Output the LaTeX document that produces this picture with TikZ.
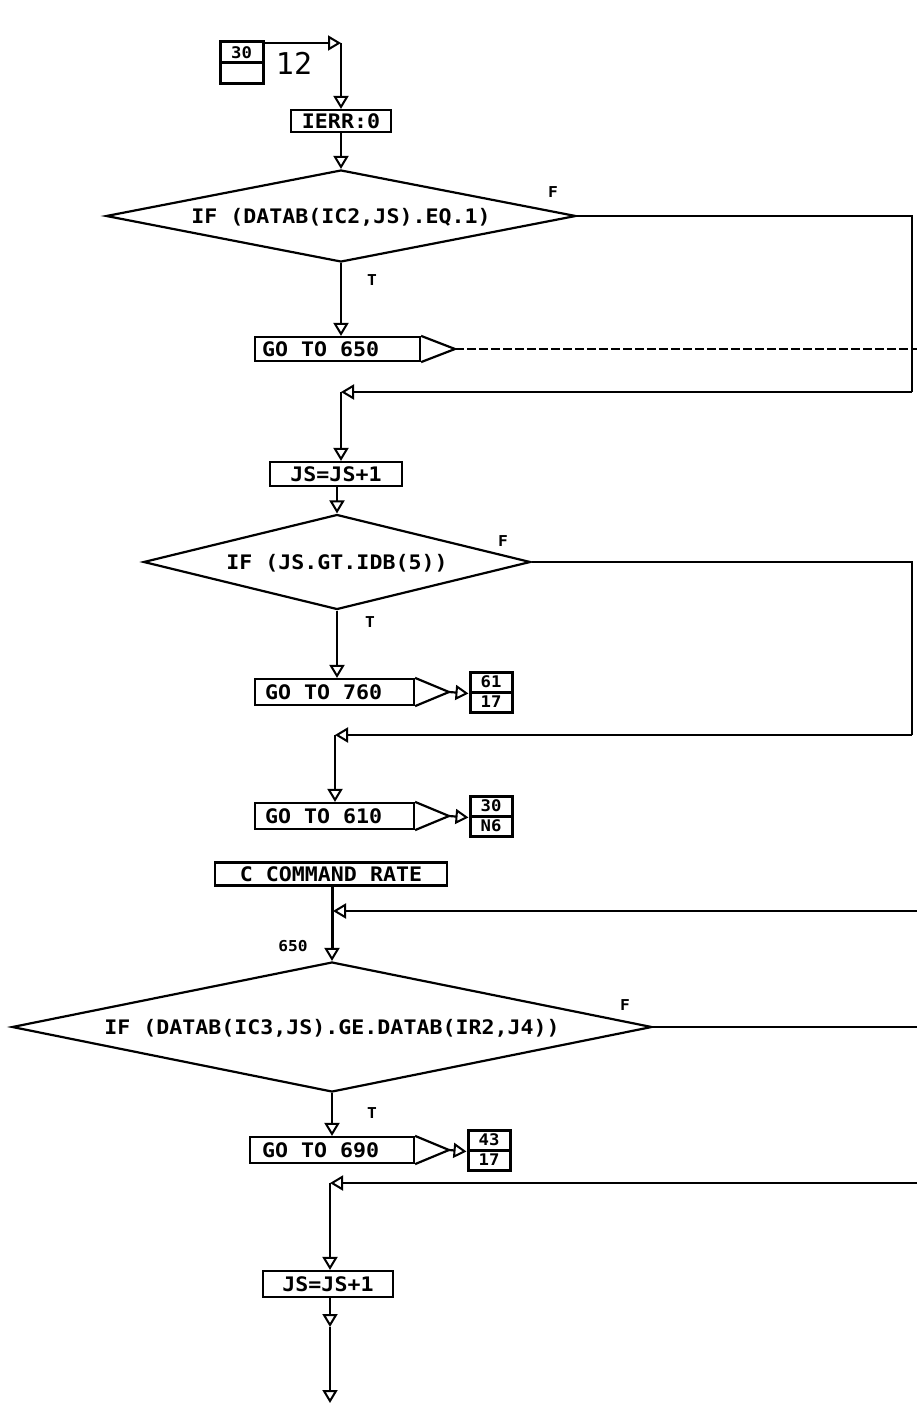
\documentclass[tikz,border=0pt]{standalone}
\usepackage{fontspec}
\usetikzlibrary{arrows.meta,shapes.geometric}
\newfontfamily\plotfont[FakeStretch=1.08]{DejaVu Sans Mono}
\newfontfamily\pgfont{DejaVu Sans Mono}
\begin{document}
\begin{tikzpicture}[x=1pt,y=-1pt,
  ln/.style={line width=2.2pt},
  tri/.style={-{Triangle[open,length=13pt,width=15pt,line width=2pt]}},
  txt/.style={inner sep=0pt,font=\plotfont\bfseries\fontsize{20}{20}\selectfont,text height=14.5pt,text depth=0pt},
  box/.style={draw,line width=2.2pt,rectangle,inner sep=0pt},
  tbox/.style={box,txt},
  dia/.style={draw,diamond,line width=2.2pt,txt},
  cbox/.style={draw,line width=3pt,rectangle,inner sep=0pt,minimum width=42pt,minimum height=20pt,
    font=\plotfont\bfseries\fontsize{16}{16}\selectfont,text height=11.5pt,text depth=0pt},
  lab/.style={inner sep=0pt,font=\plotfont\bfseries\fontsize{15}{15}\selectfont}
]
\useasboundingbox (0,0) rectangle (917,1410);
\coordinate (rx) at (912,0);
\coordinate (edge) at (917,0);
% corners
\coordinate (k0) at (341,43);
\coordinate (k1) at (341,392);
\coordinate (k2) at (335,735);
\coordinate (k3) at (333,911);
\coordinate (k4) at (330,1183);
\coordinate (m1) at (330,1327);
\coordinate (m2) at (330,1403);
% top connector
\node[cbox,minimum width=43pt,minimum height=21pt] (c0a) at (241.5,52.5) {30};
\node[cbox,minimum width=43pt,minimum height=21pt] (c0b) at (241.5,73.5) {};
\node[inner sep=0pt,font=\pgfont\fontsize{30}{30}\selectfont] (pg) at (294,63) {12};
% boxes
\node[tbox,minimum width=100pt,minimum height=22pt] (ierr) at (341,121) {IERR:0};
\node[dia,minimum width=470pt,minimum height=92pt,shape aspect=5.1] (d1) at (341,216) {IF (DATAB(IC2,JS).EQ.1)};
\node[lab] (f1) at (553,192) {F};
\node[lab] (t1) at (372,280) {T};
\node[box,minimum width=165pt,minimum height=24pt] (g650) at (337.5,349) {};
\node[txt,anchor=west] (g650t) at (262,349) {GO TO 650};
\coordinate (t650) at (455,349);
\draw[ln] (g650.north east) -- (t650) -- (g650.south east);
\node[tbox,minimum width=132pt,minimum height=24pt] (js1) at (336,474) {JS=JS+1};
\node[dia,minimum width=387pt,minimum height=95pt,shape aspect=4.1] (d2) at (337,562) {IF (JS.GT.IDB(5))};
\node[lab] (f2) at (503,541) {F};
\node[lab] (t2) at (370,622) {T};
\node[box,minimum width=159pt,minimum height=26pt] (g760) at (334.5,692) {};
\node[txt,anchor=west] (g760t) at (265,692) {GO TO 760};
\coordinate (t760) at (449,692);
\draw[ln] (g760.north east) -- (t760) -- (g760.south east);
\node[cbox] (c761a) at (491,682) {61};
\node[cbox] (c761b) at (491,702) {17};
\node[box,minimum width=159pt,minimum height=26pt] (g610) at (334.5,816) {};
\node[txt,anchor=west] (g610t) at (265,816) {GO TO 610};
\coordinate (t610) at (449,816);
\draw[ln] (g610.north east) -- (t610) -- (g610.south east);
\node[cbox] (c610a) at (491,806) {30};
\node[cbox] (c610b) at (491,826) {N6};
\node[tbox,minimum width=232pt,minimum height=23pt] (cmd) at (331,874) {C COMMAND RATE};
\node[lab] (l650) at (293,946) {650};
\node[dia,minimum width=640pt,minimum height=130pt,shape aspect=4.9] (d3) at (332,1027) {IF (DATAB(IC3,JS).GE.DATAB(IR2,J4))};
\node[lab] (f3) at (625,1005) {F};
\node[lab] (t3) at (372,1113) {T};
\node[box,minimum width=164pt,minimum height=26pt] (g690) at (332,1150) {};
\node[txt,anchor=west] (g690t) at (262,1150) {GO TO 690};
\coordinate (t690) at (449,1150);
\draw[ln] (g690.north east) -- (t690) -- (g690.south east);
\node[cbox] (c690a) at (489,1140) {43};
\node[cbox] (c690b) at (489,1160) {17};
\node[tbox,minimum width=130pt,minimum height=26pt] (js2) at (328,1284) {JS=JS+1};
% connectors
\draw[ln,tri] (k0 -| c0a.east) -- (k0);
\draw[ln,tri] (k0) -- (k0 |- ierr.north);
\draw[ln,tri] (ierr.south) -- (d1.north);
\draw[ln,tri] (d1.south) -- (d1.south |- g650.north);
\draw[line width=1.2pt,dash pattern=on 9pt off 3pt] (t650) -- (t650 -| edge);
\draw[ln] (d1.east) -| (rx |- k1);
\draw[ln,tri] (rx |- k1) -- (k1);
\draw[ln,tri] (k1) -- (k1 |- js1.north);
\draw[ln,tri] (d2.north |- js1.south) -- (d2.north);
\draw[ln,tri] (d2.south) -- (d2.south |- g760.north);
\draw[ln,tri] (t760) -- (c761a.south west);
\draw[ln] (d2.east) -| (rx |- k2);
\draw[ln,tri] (rx |- k2) -- (k2);
\draw[ln,tri] (k2) -- (k2 |- g610.north);
\draw[ln,tri] (t610) -- (c610a.south west);
\draw[ln,tri] (edge |- k3) -- (k3);
\draw[line width=3pt,tri] (d3.north |- cmd.south) -- (d3.north);
\draw[ln] (d3.east) -- (d3.east -| edge);
\draw[ln,tri] (d3.south) -- (d3.south |- g690.north);
\draw[ln,tri] (t690) -- (c690a.south west);
\draw[ln,tri] (edge |- k4) -- (k4);
\draw[ln,tri] (k4) -- (k4 |- js2.north);
\draw[ln,tri] (m1 |- js2.south) -- (m1);
\draw[ln,tri] (m1) -- (m2);
\end{tikzpicture}
\end{document}
